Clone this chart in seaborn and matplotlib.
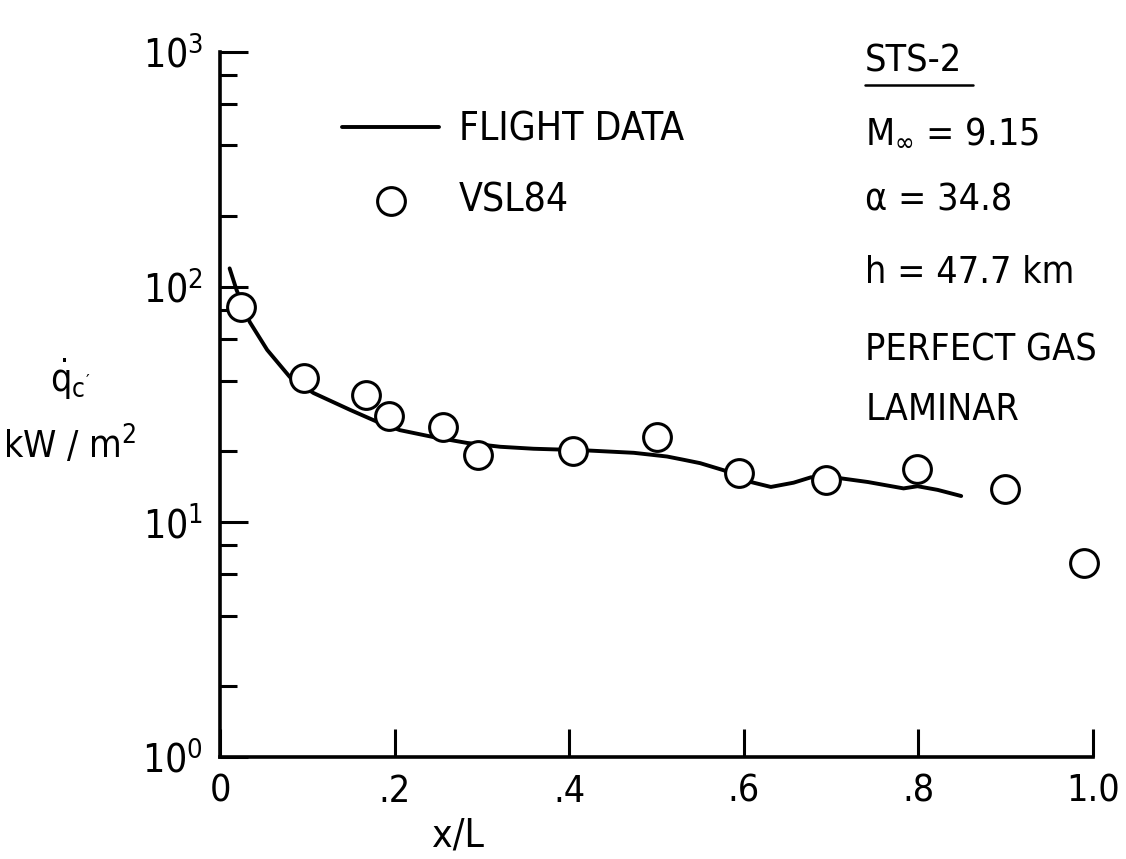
#recreate STS-2 heating chart: flight data vs VSL84
import numpy as np
import matplotlib
matplotlib.use("Agg")
import matplotlib.pyplot as plt
import seaborn as sns

# flight data curve
flight_x = [0.011, 0.019, 0.034, 0.054, 0.080, 0.107, 0.149, 0.180, 0.206, 0.244,
            0.283, 0.321, 0.359, 0.416, 0.474, 0.512, 0.531, 0.550, 0.577, 0.608,
            0.631, 0.657, 0.677, 0.708, 0.742, 0.783, 0.799, 0.822, 0.849]
flight_q = [120, 97, 71, 54, 41.4, 35.4, 30.0, 26.7, 24.6, 23.0,
            21.7, 20.9, 20.5, 20.2, 19.7, 19.0, 18.4, 17.8, 16.6, 14.8,
            14.1, 14.7, 15.5, 15.4, 14.8, 13.9, 14.2, 13.7, 12.9]

# VSL84 points
vsl_x = [0.024, 0.096, 0.167, 0.194, 0.255, 0.296, 0.404, 0.501, 0.594, 0.694, 0.798, 0.899, 0.990]
vsl_q = [82.2, 41.0, 34.7, 28.2, 25.4, 19.3, 20.0, 22.9, 16.2, 15.1, 16.8, 13.8, 6.7]

xticks = [0, 0.2, 0.4, 0.6, 0.8, 1.0]
xticklabels = ["0", ".2", ".4", ".6", ".8", "1.0"]
yticks = [1, 10, 100, 1000]
yticklabels = [r"$\mathregular{10^{0}}$", r"$\mathregular{10^{1}}$",
               r"$\mathregular{10^{2}}$", r"$\mathregular{10^{3}}$"]
conditions = ["M$_{\\infty}$ = 9.15", "\u03b1 = 34.8", "h = 47.7 km", "PERFECT GAS", "LAMINAR"]

sns.set_style("white")
plt.rcParams['font.family'] = ['DejaVu Sans']
plt.rcParams['font.stretch'] = 'condensed'
plt.rcParams['mathtext.fontset'] = 'custom'
plt.rcParams['mathtext.rm'] = 'DejaVu Sans:stretch=condensed'
plt.rcParams['mathtext.it'] = 'DejaVu Sans:stretch=condensed'
for k in ['text.color', 'axes.labelcolor', 'xtick.color', 'ytick.color']:
    plt.rcParams[k] = 'black'
fs = 27

fig = plt.figure(figsize=(11.26, 8.59), dpi=100)
ax = fig.add_axes([0.1954, 0.1187, 0.7753, 0.8208])

sns.lineplot(x=flight_x, y=flight_q, color="black", lw=2.8, sort=False,
             label="FLIGHT DATA", ax=ax, zorder=2)
sns.scatterplot(x=vsl_x, y=vsl_q, marker="o", s=400, facecolor="white",
                edgecolor="black", linewidth=2.2, label="VSL84", ax=ax, zorder=3,
                clip_on=False)

ax.set_yscale("log")
ax.set_xlim(0, 1.0)
ax.set_ylim(1, 1000)
ax.set_xticks(xticks)
ax.set_xticklabels(xticklabels, fontsize=fs)
ax.set_yticks(yticks)
ax.set_yticklabels(yticklabels, fontsize=fs + 1)
ax.yaxis.set_minor_locator(matplotlib.ticker.LogLocator(base=10, subs=[2, 4, 6, 8]))
ax.yaxis.set_minor_formatter(matplotlib.ticker.NullFormatter())
ax.tick_params(axis="both", which="major", direction="in", length=20, width=2.2, pad=12,
               bottom=True, left=True)
ax.tick_params(axis="y", which="minor", direction="in", length=12, width=2.2, left=True)
ax.tick_params(axis="x", which="minor", length=0)
for s in ["top", "right"]:
    ax.spines[s].set_visible(False)
for s in ["left", "bottom"]:
    ax.spines[s].set_linewidth(2.6)
    ax.spines[s].set_color("black")

ax.set_xlabel("x/L", fontsize=fs + 1)
ax.xaxis.set_label_coords(0.273, -0.085)
ax.set_ylabel("$\\dot{\\mathrm{q}}_{\\mathrm{c}'}$\nkW / m$^2$", fontsize=fs,
              rotation=0, ha="center", va="center", linespacing=1.6)
ax.yaxis.set_label_coords(-0.172, 0.49)

leg = ax.legend(loc="upper left", bbox_to_anchor=(0.14, 0.917), frameon=False,
                fontsize=fs + 1, handlelength=2.5, handletextpad=0.5,
                labelspacing=0.85, borderaxespad=0, borderpad=0)

# flight conditions block
ax.text(0.739, 0.986, "STS-2", transform=ax.transAxes, fontsize=fs, va="center", ha="left")
ax.plot([0.739, 0.862], [0.953, 0.953], transform=ax.transAxes, color="black",
        lw=1.8, clip_on=False)
for yy, t in zip([0.885, 0.790, 0.687, 0.577, 0.492], conditions):
    ax.text(0.739, yy, t, transform=ax.transAxes, fontsize=fs, va="center", ha="left")

plt.savefig("out.png", dpi=100)
